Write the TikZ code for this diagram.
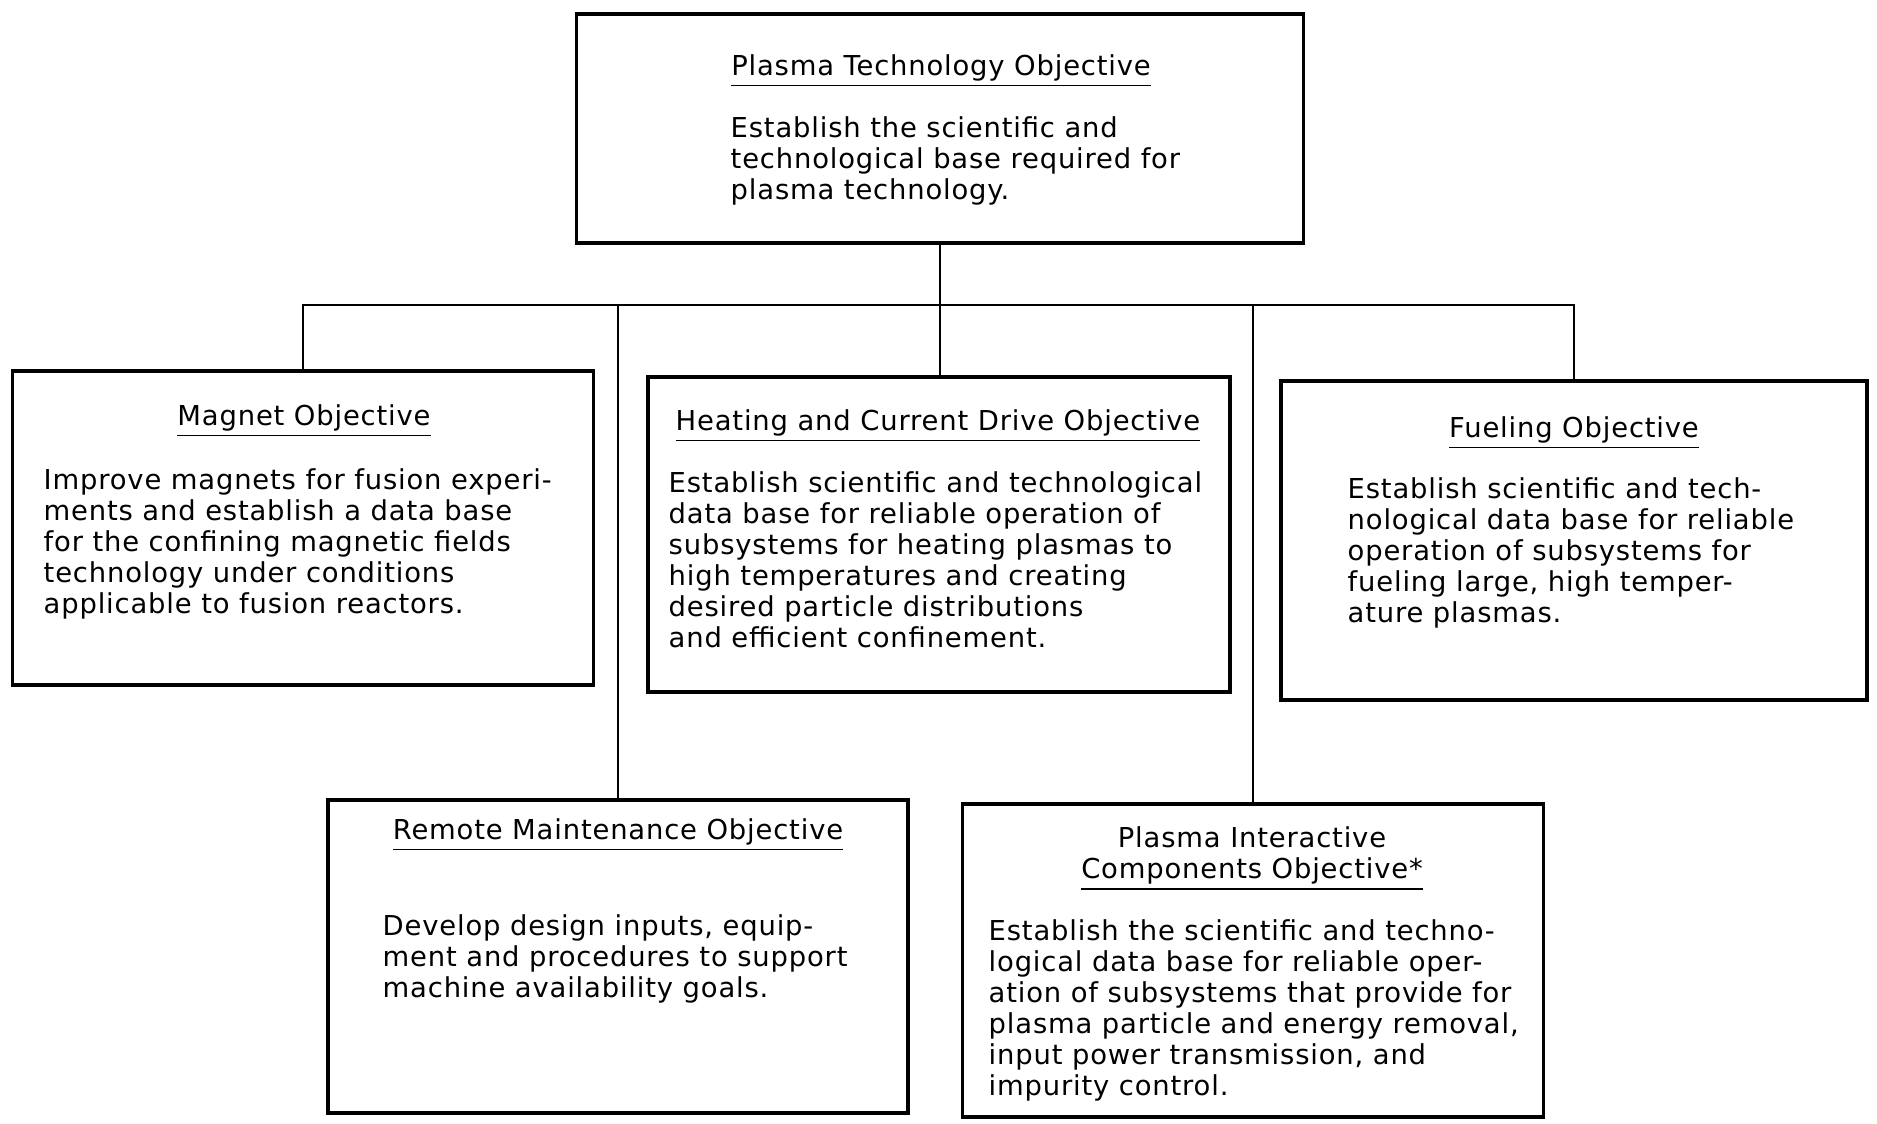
\documentclass[tikz,border=0pt]{standalone}
\usepackage{fontspec}
\newfontfamily\objfont{DejaVu Sans}[LetterSpace=3.0]
\usetikzlibrary{positioning, calc}

\begin{document}
\begin{tikzpicture}[
        box/.style={rectangle, draw, line width=0.9pt, inner sep=0pt, minimum width=5.81cm, minimum height=3.14cm},
        title/.style={anchor=base, inner sep=0pt, font=\objfont\fontsize{7.8}{8.8}\selectfont},
        body/.style={anchor=north west, align=left, inner sep=0pt, font=\objfont\fontsize{7.8}{8.8}\selectfont},
        link/.style={line width=0.5pt}]
        \useasboundingbox (0,0) rectangle (18.77,-11.23);

        % boxes
        \node[box, minimum width=7.27cm, minimum height=2.29cm] (plasma) at (9.40,-1.285) {};
        \node[box] (magnet) at (3.03,-5.28) {};
        \node[box, minimum width=5.82cm, minimum height=3.15cm] (heating) at (9.39,-5.345) {};
        \node[box, minimum width=5.86cm, minimum height=3.19cm] (fueling) at (15.74,-5.405) {};
        \node[box, minimum width=5.80cm, minimum height=3.13cm] (remote) at (6.18,-9.565) {};
        \node[box, minimum height=3.13cm] (pic) at (12.53,-9.605) {};

        % texts
        \node[title] (plasmatitle) at (9.41,-0.75) {\underline{Plasma Technology Objective}};
        \node[body] (plasmatext) at (7.30,-1.16) {Establish the scientific and\\technological base required for\\plasma technology.};

        \node[title] (magnettitle) at (3.04,-4.25) {\underline{Magnet Objective}};
        \node[body] (magnettext) at (0.43,-4.68) {Improve magnets for fusion experi-\\ments and establish a data base\\for the confining magnetic fields\\technology under conditions\\applicable to fusion reactors.};

        \node[title] (heatingtitle) at (9.38,-4.30) {\underline{Heating and Current Drive Objective}};
        \node[body] (heatingtext) at (6.68,-4.71) {Establish scientific and technological\\data base for reliable operation of\\subsystems for heating plasmas to\\high temperatures and creating\\desired particle distributions\\and efficient confinement.};

        \node[title] (fuelingtitle) at (15.74,-4.37) {\underline{Fueling Objective}};
        \node[body] (fuelingtext) at (13.47,-4.77) {Establish scientific and tech-\\nological data base for reliable\\operation of subsystems for\\fueling large, high temper-\\ature plasmas.};

        \node[title] (remotetitle) at (6.18,-8.39) {\underline{Remote Maintenance Objective}};
        \node[body] (remotetext) at (3.82,-9.14) {Develop design inputs, equip-\\ment and procedures to support\\machine availability goals.};

        \node[title, anchor=north, align=center] (pictitle) at (12.52,-8.26) {Plasma Interactive\\\underline{Components Objective*}};
        \node[body] (pictext) at (9.88,-9.19) {Establish the scientific and techno-\\logical data base for reliable oper-\\ation of subsystems that provide for\\plasma particle and energy removal,\\input power transmission, and\\impurity control.};

        % connectors
        \coordinate (bus) at (9.40,-3.05);
        \draw[link] (plasma.south) -- (plasma.south |- heating.north);
        \draw[link] (magnet.north) -- (magnet.north |- bus) -- (fueling.north |- bus) -- (fueling.north);
        \draw[link] (remote.north |- bus) -- (remote.north);
        \draw[link] (pic.north |- bus) -- (pic.north);
    \end{tikzpicture}
\end{document}
